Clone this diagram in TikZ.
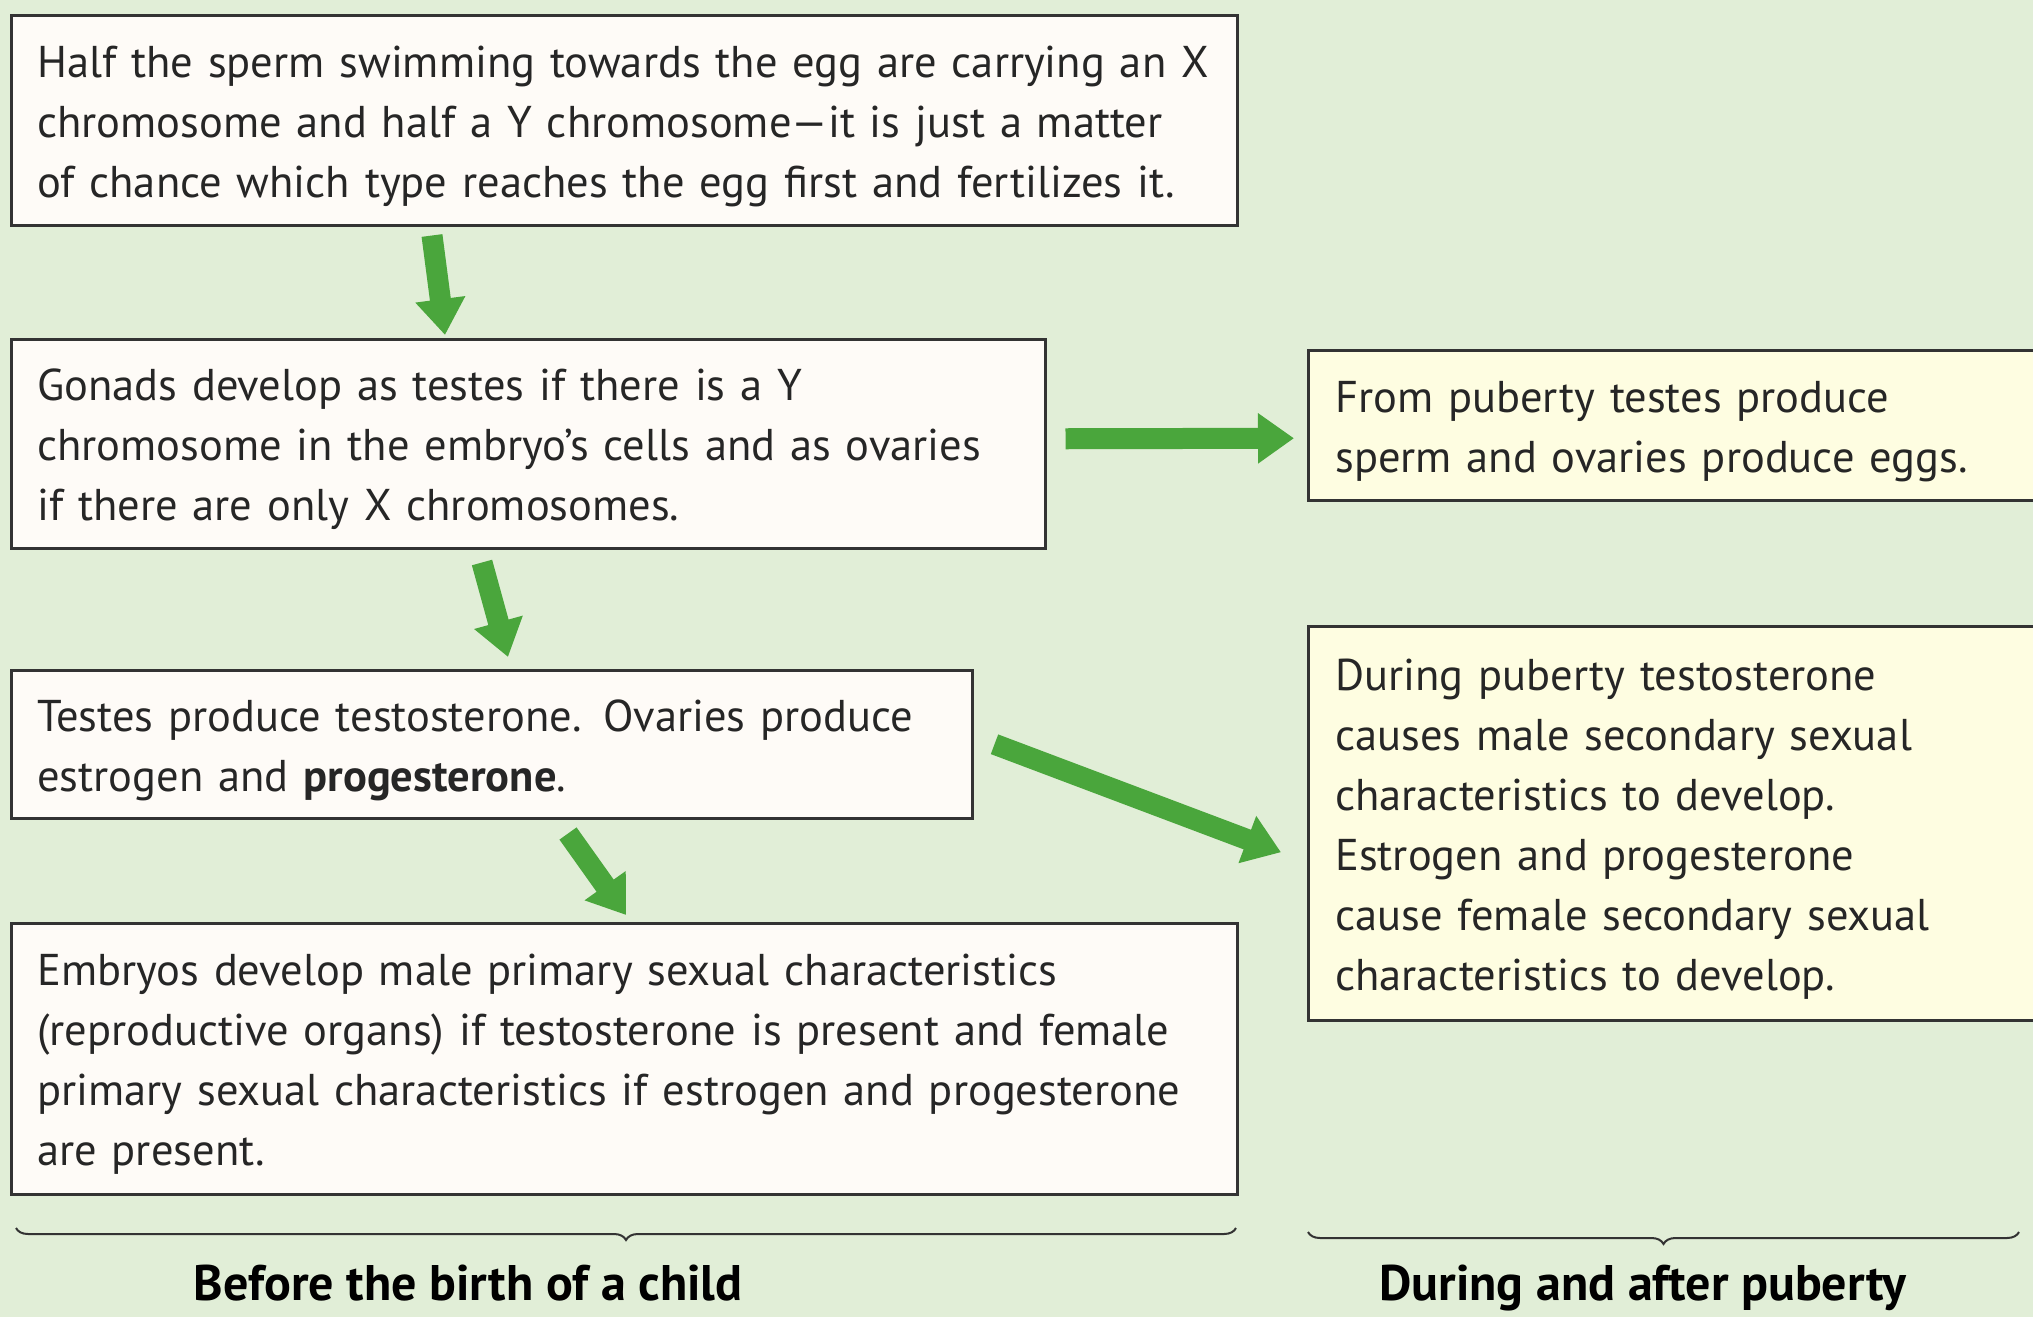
\documentclass[tikz,border=0pt]{standalone}
\usepackage{fontspec}
\setmainfont{PT Sans}
\usetikzlibrary{arrows.meta,calc,decorations.pathreplacing}
\definecolor{bgc}{HTML}{E1EED7}
\definecolor{boxc}{HTML}{FEFBF7}
\definecolor{ybox}{HTML}{FEFDE1}
\definecolor{linec}{HTML}{333333}
\definecolor{arrc}{HTML}{4AA63C}
\tikzset{
  txtbox/.style={draw=linec, line width=2.5pt, fill=boxc, rectangle, anchor=north west,
    align=left, inner xsep=26pt, inner ysep=0pt, text height=40pt,
    font=\fontsize{44.5pt}{60pt}\selectfont, text=black!85},
  ybx/.style={txtbox, fill=ybox, inner xsep=27pt},
  fatarrow/.style={draw=arrc, line width=21pt, -{Triangle[width=48pt,length=36pt]}},
  bracestyle/.style={draw=linec, line width=2pt, decorate,
    decoration={brace, mirror, amplitude=12pt}},
  lbl/.style={font=\fontsize{50pt}{54pt}\selectfont\bfseries, anchor=base, inner sep=0pt}
}
\begin{document}
\begin{tikzpicture}[x=1pt,y=-1pt]
\fill[bgc] (0,0) rectangle (2033,1317);
\useasboundingbox (0,0) rectangle (2033,1317);

\node[txtbox, minimum width=1226pt, minimum height=210pt, text width=1174pt, text depth=126pt] (b1) at (10,14)
 {Half the sperm swimming towards the egg are carrying an X\\chromosome and half a Y chromosome—it is just a matter\\of chance which type reaches the egg first and fertilizes it.};
\node[txtbox, minimum width=1034pt, minimum height=209pt, text width=982pt, text depth=126pt] (b2) at (10,338)
 {Gonads develop as testes if there is a Y\\chromosome in the embryo’s cells and as ovaries\\if there are only X chromosomes.};
\node[txtbox, minimum width=961pt, minimum height=148pt, text width=909pt, text depth=66pt] (b3) at (10,669)
 {Testes produce testosterone. Ovaries produce\\estrogen and \textbf{progesterone}.};
\node[txtbox, minimum width=1226pt, minimum height=271pt, text width=1174pt, text depth=186pt] (b4) at (10,922)
 {Embryos develop male primary sexual characteristics\\(reproductive organs) if testosterone is present and female\\primary sexual characteristics if estrogen and progesterone\\are present.};

\node[ybx, minimum width=743pt, minimum height=150pt, text width=689pt, text depth=66pt] (r1) at (1307,349)
 {From puberty testes produce\\sperm and ovaries produce eggs.};
\node[ybx, minimum width=743pt, minimum height=394pt, text width=689pt, text depth=306pt] (r2) at (1307,625)
 {During puberty testosterone\\causes male secondary sexual\\characteristics to develop.\\Estrogen and progesterone\\cause female secondary sexual\\characteristics to develop.};

\draw[fatarrow] ($(b1.south west)+(422,9)$) -- ($(b2.north west)+(435,-3)$);
\draw[fatarrow] ($(b2.east)+(19,-5)$) -- ($(r1.west)+(-13,13)$);
\draw[fatarrow] ($(b2.south west)+(472,13)$) -- ($(b3.north west)+(498,-12)$);
\draw[fatarrow] ($(b3.south west)+(558,14)$) -- ($(b4.north west)+(616,-7)$);
\draw[fatarrow] ($(b3.east)+(21,0)$) -- ($(r2.west)+(-26,29)$);

\coordinate (l1) at (16,1228);
\coordinate (l2) at (1236,1228);
\coordinate (m1) at (1308,1232);
\coordinate (m2) at (2019,1232);
\draw[bracestyle] (l1) -- (l2);
\draw[bracestyle] (m1) -- (m2);

\node[lbl] (t1) at (468,1300) {Before the birth of a child};
\node[lbl] (t2) at (1643,1300) {During and after puberty};
\end{tikzpicture}
\end{document}
